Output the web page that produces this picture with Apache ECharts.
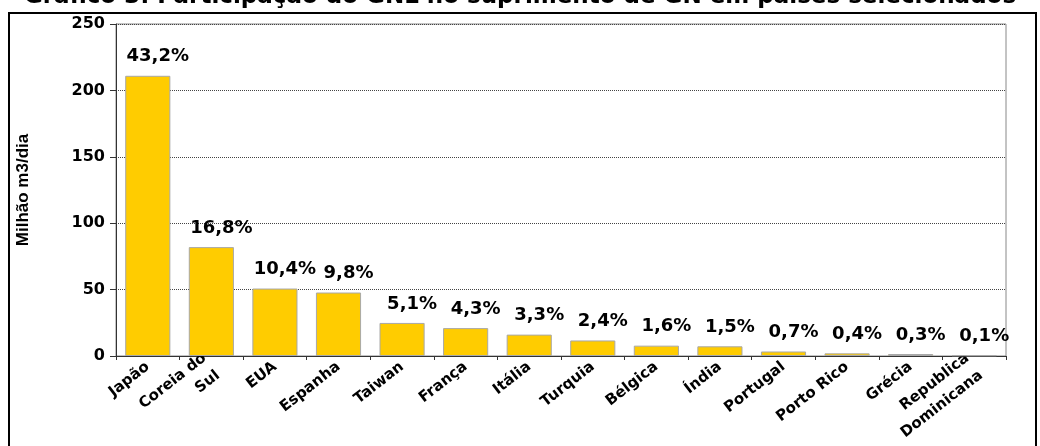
<!DOCTYPE html>
<html>
<head>
<meta charset="utf-8">
<script src="https://cdn.jsdelivr.net/npm/echarts@6/dist/echarts.min.js"></script>
<style>
html,body{margin:0;padding:0;background:#fff;}
#chart{width:1040px;height:446px;}
</style>
</head>
<body>
<div id="chart"></div>
<script>
const titleText = 'Gráfico 3: Participação do GNL no suprimento de GN em países selecionados';
const categories = ['Japão','Coreia do\nSul','EUA','Espanha','Taiwan','França','Itália','Turquia','Bélgica','Índia','Portugal','Porto Rico','Grécia','Republica\nDominicana'];
const values = [211, 82, 50.8, 47.8, 24.9, 21, 16.1, 11.7, 7.8, 7.3, 3.4, 2, 1.5, 0.5];
const pctLabels = ['43,2%','16,8%','10,4%','9,8%','5,1%','4,3%','3,3%','2,4%','1,6%','1,5%','0,7%','0,4%','0,3%','0,1%'];
const yTicks = [0, 50, 100, 150, 200, 250];
const yName = 'Milhão m3/dia';

const chart = echarts.init(document.getElementById('chart'), null, {renderer: 'canvas'});
const bold = 'DejaVu Sans';
chart.setOption({
  animation: false,
  backgroundColor: '#ffffff',
  title: {
    text: titleText,
    left: 'center',
    top: -19,
    textStyle: {fontFamily: bold, fontWeight: 'bold', fontSize: 23, color: '#000'}
  },
  graphic: [{
    type: 'rect',
    shape: {x: 9, y: 13, width: 1027, height: 450},
    style: {fill: '#fff', stroke: '#000', lineWidth: 2},
    z: -10,
    silent: true
  }],
  grid: {
    left: 116, right: 34, top: 24, bottom: 90,
    show: true, borderColor: '#888', borderWidth: 1, backgroundColor: 'transparent'
  },
  xAxis: {
    type: 'category',
    data: categories,
    axisLine: {lineStyle: {color: '#333', width: 1}},
    axisTick: {show: true, length: 4, lineStyle: {color: '#333'}},
    axisLabel: {
      rotate: 38, margin: 9, interval: 0,
      fontFamily: bold, fontWeight: 'bold', fontSize: 15, color: '#000', lineHeight: 22
    }
  },
  yAxis: {
    type: 'value',
    min: yTicks[0], max: yTicks[yTicks.length - 1], interval: 50,
    name: yName,
    nameLocation: 'middle',
    nameGap: 84,
    nameRotate: 90,
    nameTextStyle: {fontFamily: 'Liberation Sans', fontWeight: 'bold', fontSize: 17, color: '#000'},
    axisLine: {show: true, lineStyle: {color: '#333', width: 1}},
    axisTick: {show: true, length: 6, inside: false, lineStyle: {color: '#333'}},
    axisLabel: {margin: 11, fontFamily: bold, fontWeight: 'bold', fontSize: 16, color: '#000'},
    splitLine: {show: true, lineStyle: {color: '#444', width: 1, type: 'dotted'}}
  },
  series: [{
    type: 'bar',
    data: values,
    barCategoryGap: '29%',
    itemStyle: {color: '#FFCC00', borderColor: '#a8a8a8', borderWidth: 1},
    label: {
      show: true,
      position: 'top',
      distance: 10,
      offset: [10, 0],
      formatter: p => pctLabels[p.dataIndex],
      fontFamily: bold, fontWeight: 'bold', fontSize: 18, color: '#000'
    }
  }]
});
</script>
</body>
</html>
